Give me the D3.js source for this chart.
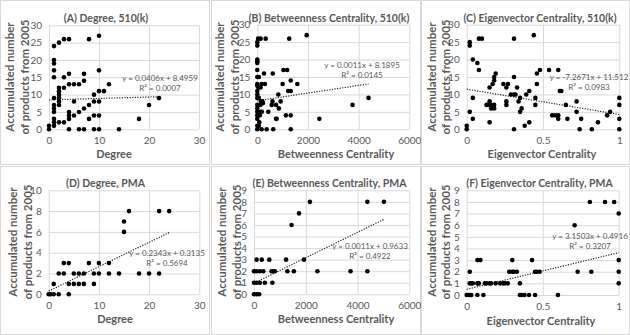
<!DOCTYPE html>
<html>
<head>
<meta charset="utf-8">
<script src="https://cdn.jsdelivr.net/npm/d3@7"></script>
<style>
  body { margin: 0; background: #fff; }
  svg { display: block; font-family: Lato, "Open Sans", sans-serif; }
  .tick text { fill: #595959; font-size: 10px; }
  .grid line { stroke: #d9d9d9; stroke-width: 1; }
  .title, .axis-title, .y-title { fill: #595959; font-weight: 700; }
  .eq { fill: #595959; font-size: 8px; }
</style>
</head>
<body>
<div id="chart"></div>
<script>
// Points, [x, y]
const degree510k = [
  [0, 0], [0, 1], [1, 24], [1, 20], [1, 19], [1, 17], [1, 15], [1, 9], [1, 7], [1, 6],
  [1, 5], [1, 3], [1, 2], [1, 1], [2, 25], [2, 12], [2, 11], [2, 10], [2, 9], [2, 8],
  [2, 7], [2, 2], [3, 26], [3, 15], [3, 12], [3, 2], [4, 26], [4, 16], [4, 13], [4, 5],
  [4, 4], [4, 3], [4, 0], [5, 13], [5, 8], [5, 4], [6, 13], [6, 5], [6, 0], [7, 16],
  [7, 14], [7, 6], [7, 0], [8, 26], [8, 7], [8, 3], [9, 10], [9, 8], [9, 4], [9, 0],
  [10, 27], [10, 17], [10, 11], [10, 8], [10, 4], [10, 0], [11, 11], [12, 13], [14, 0],
  [18, 3], [20, 7], [22, 9]
];
const betweenness510k = [
  [30, 26], [0, 25], [0, 24], [130, 26], [330, 26], [1260, 26], [1950, 27], [0, 20],
  [0, 19.5], [0, 19], [0, 17], [0, 15], [60, 15], [265, 16], [610, 16], [1030, 17],
  [1180, 17], [0, 13], [0, 12.5], [170, 13], [300, 13], [1320, 14], [1000, 13], [1580, 13],
  [1220, 11], [1320, 11], [130, 12], [0, 11], [0, 10], [0, 9], [830, 10], [150, 8],
  [220, 7.5], [120, 7], [600, 8], [920, 8], [740, 7], [0, 7], [0, 6], [0, 5], [0, 4],
  [0, 3], [0, 1], [0, 0], [130, 5], [180, 5], [435, 5], [570, 7], [765, 3], [740, 3],
  [1130, 4], [1320, 4], [2450, 3], [170, 0], [370, 0], [630, 0], [1320, 0], [60, 1],
  [3760, 7], [4390, 9], [850, 6], [80, 2], [100, 4], [40, 12], [200, 8], [60, 9]
];
const eigenvector510k = [
  [0, 1], [0, 0], [0.02, 25], [0.02, 24], [0.02, 5], [0.04, 9], [0.04, 20], [0.04, 3],
  [0.07, 19], [0.08, 17], [0.08, 26], [0.1, 26], [0.13, 7], [0.14, 7], [0.15, 8],
  [0.16, 7], [0.16, 6], [0.18, 6], [0.18, 7], [0.18, 15], [0.18, 14], [0.19, 16],
  [0.17, 13], [0.15, 12], [0.15, 2], [0.24, 13], [0.26, 8], [0.26, 7], [0.26, 12],
  [0.27, 13], [0.29, 10], [0.31, 10], [0.32, 10], [0.31, 26], [0.31, 15], [0.31, 0],
  [0.33, 12], [0.34, 8], [0.35, 9], [0.35, 5], [0.36, 6], [0.38, 1], [0.39, 10],
  [0.41, 11], [0.41, 2], [0.44, 27], [0.45, 9], [0.45, 7], [0.46, 13], [0.46, 16],
  [0.48, 17], [0.54, 17], [0.6, 17], [0.56, 4], [0.58, 4], [0.6, 4], [0.6, 3], [0.61, 11],
  [0.62, 11], [0.65, 7], [0.66, 3], [0.72, 5], [0.72, 8], [0.74, 0], [0.75, 3], [0.82, 0],
  [0.86, 2], [0.92, 4], [0.94, 5], [1, 9], [1, 7], [1, 3], [1, 0]
];
const degreePMA = [
  [0, 0], [0.4, 0], [1, 1], [1, 0], [2, 0], [2, 2], [3, 3], [3, 2], [4, 3], [4, 1], [4, 0],
  [5, 2], [5, 1], [6, 2], [6, 1], [7, 2], [7, 1], [8, 3], [9, 2], [9, 1], [10, 3], [10, 2],
  [12, 3], [12, 2], [14, 2], [15, 7], [15, 6], [16, 8], [18, 2], [20, 2], [22, 8], [22, 2],
  [24, 8]
];
const betweennessPMA = [
  [0, 0], [100, 0], [200, 0], [0, 1], [100, 1], [230, 1], [0, 2], [100, 2], [230, 2],
  [100, 3], [300, 3], [360, 2], [420, 1], [590, 3], [680, 2], [750, 2], [810, 2], [710, 1],
  [1240, 3], [1290, 2], [1450, 6], [1540, 2], [1740, 7], [1930, 3], [2160, 8], [2450, 2],
  [3730, 2], [4380, 8], [4380, 2], [5020, 8]
];
const eigenvectorPMA = [
  [0, 0], [0.01, 0], [0.02, 0], [0.03, 0], [0.02, 2], [0.02, 1], [0.03, 1], [0.04, 1],
  [0.07, 1], [0.075, 1], [0.08, 1], [0.07, 3], [0.09, 3], [0.07, 0], [0.11, 0], [0.12, 1],
  [0.13, 1], [0.15, 1], [0.16, 1], [0.19, 1], [0.22, 1], [0.24, 1], [0.25, 1], [0.27, 1],
  [0.28, 2], [0.3, 2], [0.31, 2], [0.3, 3], [0.33, 2], [0.35, 1], [0.35, 0], [0.36, 0],
  [0.38, 0], [0.41, 0], [0.43, 3], [0.45, 0], [0.45, 2], [0.46, 2], [0.48, 2], [0.6, 0],
  [0.71, 6], [0.73, 2], [0.81, 8], [0.82, 2], [0.91, 8], [0.97, 8], [1, 7], [1, 3], [1, 2],
  [1, 1]
];

// Trendline coefficients [slope, intercept, R²] as printed
const trendCoefs = [
  [0.0406, 8.4959, "0.0007"],
  [0.0011, 8.1895, "0.0145"],
  [-7.2671, 11.512, "0.0983"],
  [0.2343, 0.3135, "0.5694"],
  [0.0011, 0.9633, "0.4922"],
  [3.1503, 0.4916, "0.3207"]
];
const equationLabels = [
  "y = 0.0406x + 8.4959",
  "y = 0.0011x + 8.1895",
  "y = -7.2671x + 11.512",
  "y = 0.2343x + 0.3135",
  "y = 0.0011x + 0.9633",
  "y = 3.1503x + 0.4916"
];

const panelTitles = [
  "(A) Degree, 510(k)",
  "(B) Betweenness Centrality, 510(k)",
  "(C) Eigenvector Centrality, 510(k)",
  "(D) Degree, PMA",
  "(E) Betweenness Centrality, PMA",
  "(F) Eigenvector Centrality, PMA"
];
const xTitles = ["Degree", "Betweenness Centrality", "Eigenvector Centrality",
  "Degree", "Betweenness Centrality", "Eigenvector Centrality"];
const yTitleLines = ["Accumulated number", "of products from 2005"];

const degreeTicks = [0, 10, 20, 30];
const betweennessTicks = [0, 2000, 4000, 6000];
const eigenTicks = [0, 0.5, 1];
const yTicks510k = [0, 5, 10, 15, 20, 25, 30];
const yTicksDegreePMA = [0, 2, 4, 6, 8, 10];
const yTicksPMA = [0, 1, 2, 3, 4, 5, 6, 7, 8, 9];

// Layout of each panel (plot box, label anchors)
const panels = [
  { data: degree510k, xt: degreeTicks, yt: yTicks510k,
    box: [0, 0, 210, 165], plot: [49, 199, 129.3, 25.3],
    title: [106, 18], xTitle: [114, 158], yLab: [10, 25, 77], eq: [160, 78] },
  { data: betweenness510k, xt: betweennessTicks, yt: yTicks510k,
    box: [211, 0, 210, 165], plot: [257.3, 409.3, 129.3, 24.7],
    title: [329, 18], xTitle: [336, 158], yLab: [220, 235, 77], eq: [362, 65] },
  { data: eigenvector510k, xt: eigenTicks, yt: yTicks510k,
    box: [421, 0, 209, 165], plot: [466.7, 619.3, 129.3, 24.7],
    title: [540, 18], xTitle: [542, 158], yLab: [432, 446, 77], eq: [589, 77] },
  { data: degreePMA, xt: degreeTicks, yt: yTicksDegreePMA,
    box: [0, 166, 210, 169], plot: [48.7, 199.3, 294.3, 190.3],
    title: [105.5, 183], xTitle: [115, 323], yLab: [13, 28, 242], eq: [167, 253] },
  { data: betweennessPMA, xt: betweennessTicks, yt: yTicksPMA,
    box: [211, 166, 210, 169], plot: [254, 409.3, 294.3, 190.3],
    title: [329.5, 183], xTitle: [336, 323], yLab: [222, 237, 242], eq: [370, 246] },
  { data: eigenvectorPMA, xt: eigenTicks, yt: yTicksPMA,
    box: [421, 166, 209, 169], plot: [466.7, 618.7, 295, 190.3],
    title: [539.5, 183], xTitle: [541, 325], yLab: [432, 446, 242], eq: [590, 236] }
];

const svg = d3.select("#chart").append("svg")
  .attr("width", 630)
  .attr("height", 335);

panels.forEach((p, i) => {
  const [x0, x1, y0, y1] = p.plot;
  const xScale = d3.scaleLinear().domain(d3.extent(p.xt)).range([x0, x1]);
  const yScale = d3.scaleLinear().domain(d3.extent(p.yt)).range([y0, y1]);

  // chart area border
  svg.append("rect")
    .attr("x", p.box[0] + 0.5).attr("y", p.box[1] + 0.5)
    .attr("width", p.box[2] - 1).attr("height", p.box[3] - 1)
    .attr("fill", "none").attr("stroke", "#d9d9d9");

  // gridlines
  svg.append("g").attr("class", "grid")
    .attr("transform", `translate(0,${y0})`)
    .call(d3.axisBottom(xScale).tickValues(p.xt).tickSize(-(y0 - y1)).tickFormat(""))
    .call((g) => g.select(".domain").remove());
  svg.append("g").attr("class", "grid")
    .attr("transform", `translate(${x0},0)`)
    .call(d3.axisLeft(yScale).tickValues(p.yt).tickSize(-(x1 - x0)).tickFormat(""))
    .call((g) => g.select(".domain").remove());

  // tick labels
  svg.append("g")
    .attr("transform", `translate(0,${y0})`)
    .call(d3.axisBottom(xScale).tickValues(p.xt).tickSize(0).tickPadding(8)
      .tickFormat(d3.format("~g")))
    .call((g) => g.select(".domain").remove())
    .attr("font-family", null).attr("font-size", null);
  svg.append("g")
    .attr("transform", `translate(${x0},0)`)
    .call(d3.axisLeft(yScale).tickValues(p.yt).tickSize(0).tickPadding(7)
      .tickFormat(d3.format("~g")))
    .call((g) => g.select(".domain").remove())
    .attr("font-family", null).attr("font-size", null);

  // trendline across the data range
  const [slope, intercept, r2] = trendCoefs[i];
  const xr = d3.extent(p.data, (d) => d[0]);
  svg.append("path")
    .datum(xr.map((x) => [x, slope * x + intercept]))
    .attr("fill", "none")
    .attr("stroke", "#262626")
    .attr("stroke-width", 1.2)
    .attr("stroke-dasharray", "1.2 1.4")
    .attr("d", d3.line().x((d) => xScale(d[0])).y((d) => yScale(d[1])));

  // points
  svg.append("g")
    .selectAll("circle")
    .data(p.data)
    .join("circle")
    .attr("cx", (d) => xScale(d[0]))
    .attr("cy", (d) => yScale(d[1]))
    .attr("r", 2.3)
    .attr("fill", "#000");

  // equation + R²
  svg.append("text").attr("class", "eq")
    .attr("x", p.eq[0]).attr("y", p.eq[1]).attr("dy", "0.35em")
    .attr("text-anchor", "middle")
    .text(equationLabels[i]);
  svg.append("text").attr("class", "eq")
    .attr("x", p.eq[0]).attr("y", p.eq[1] + 10.5).attr("dy", "0.35em")
    .attr("text-anchor", "middle")
    .text(`R² = ${r2}`);

  // titles
  svg.append("text").attr("class", "title")
    .attr("x", p.title[0]).attr("y", p.title[1]).attr("dy", "0.35em")
    .attr("text-anchor", "middle")
    .attr("font-size", "10.5px")
    .text(panelTitles[i]);
  svg.append("text").attr("class", "axis-title")
    .attr("x", p.xTitle[0]).attr("y", p.xTitle[1])
    .attr("text-anchor", "middle")
    .attr("font-size", "11px")
    .text(xTitles[i]);
  yTitleLines.forEach((line, k) => {
    svg.append("text").attr("class", "y-title")
      .attr("transform", `translate(${p.yLab[k]},${p.yLab[2]}) rotate(-90)`)
      .attr("dy", "0.35em")
      .attr("text-anchor", "middle")
      .attr("font-size", "11.5px")
      .text(line);
  });
});
</script>
</body>
</html>
